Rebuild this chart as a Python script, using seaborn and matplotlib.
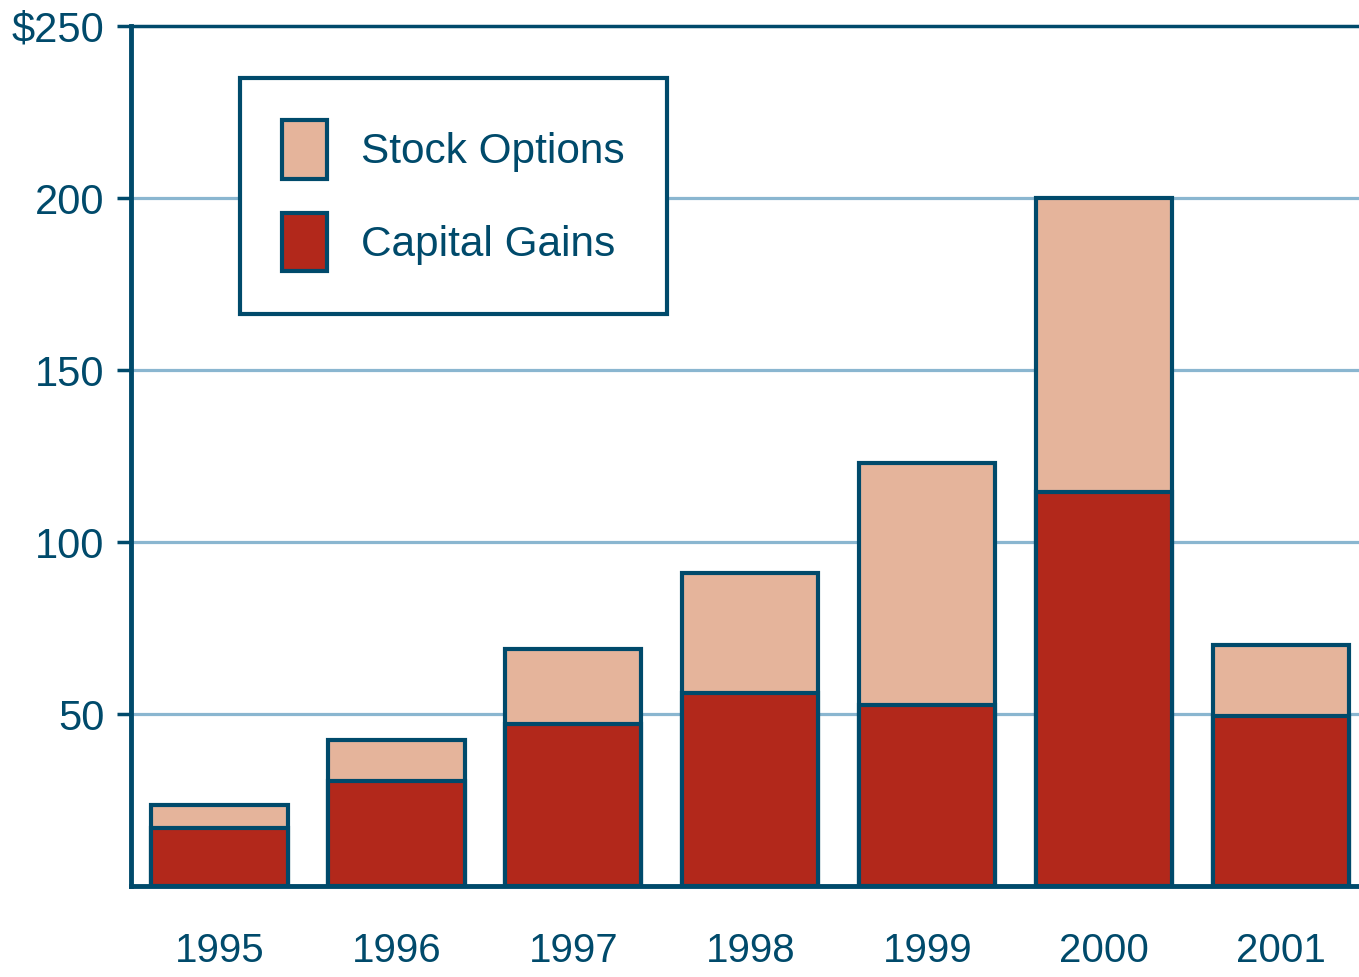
import matplotlib
matplotlib.use("Agg")
import matplotlib.pyplot as plt
import seaborn as sns
import pandas as pd
from matplotlib.patches import Patch

years = ["1995", "1996", "1997", "1998", "1999", "2000", "2001"]
capital_gains = [17, 30.5, 47, 56, 52.5, 114.5, 49.5]
stock_options = [6.5, 12, 22, 35, 70.5, 85.5, 20.5]
totals = [c + s for c, s in zip(capital_gains, stock_options)]
ytick_values = [50, 100, 150, 200, 250]
ytick_labels = ["50", "100", "150", "200", "$250"]

DARK = "#004a6b"
RED = "#b2281b"
PEACH = "#e5b49b"
GRID = "#8ab6d0"

sns.set_theme(style="white")
plt.rcParams["font.family"] = ["Liberation Sans", "DejaVu Sans"]

df = pd.DataFrame({"year": years, "cg": capital_gains, "total": totals})

fig = plt.figure(figsize=(13.59, 9.77), dpi=100)
ax = fig.add_axes([131/1359, 1 - 886/977, 1 - 131/1359, (886 - 26)/977])

sns.barplot(data=df, x="year", y="total", color=PEACH, saturation=1,
            edgecolor=DARK, linewidth=3, width=0.77, ax=ax, zorder=3)
sns.barplot(data=df, x="year", y="cg", color=RED, saturation=1,
            edgecolor=DARK, linewidth=3, width=0.77, ax=ax, zorder=4)

ax.set_xlim(-0.5, 6.44)
ax.set_ylim(0, 250)
ax.set_yticks(ytick_values)
ax.set_yticklabels(ytick_labels)
ax.set_xlabel("")
ax.set_ylabel("")

for y in [50, 100, 150, 200]:
    ax.axhline(y, color=GRID, linewidth=2.3, zorder=1)
ax.axhline(250, color=DARK, linewidth=2.5, zorder=5, clip_on=False)

for s in ["top", "right"]:
    ax.spines[s].set_visible(False)
for s in ["left", "bottom"]:
    ax.spines[s].set_visible(True)
    ax.spines[s].set_color(DARK)
    ax.spines[s].set_linewidth(3.5)
    ax.spines[s].set_zorder(6)

ax.tick_params(axis="y", which="both", left=True, length=10, width=2.5,
               color=DARK, pad=9, labelsize=30, labelcolor=DARK)
ax.tick_params(axis="x", which="both", bottom=False, length=0, pad=33,
               labelsize=29, labelcolor=DARK)

handles = [Patch(facecolor=PEACH, edgecolor=DARK, linewidth=3, label="Stock Options"),
           Patch(facecolor=RED, edgecolor=DARK, linewidth=3, label="Capital Gains")]
leg = ax.legend(handles=handles, loc="upper left", bbox_to_anchor=(0.0888, 0.9395),
                borderaxespad=0, fontsize=30.5, frameon=True, fancybox=False,
                handlelength=1.05, handleheight=1.75, handletextpad=0.8,
                labelspacing=0.8, borderpad=1.0, labelcolor=DARK)
leg.get_frame().set_edgecolor(DARK)
leg.get_frame().set_linewidth(3)
leg.get_frame().set_facecolor("white")
leg.get_frame().set_alpha(1)
leg.set_zorder(10)

fig.savefig("out.png", dpi=100)
